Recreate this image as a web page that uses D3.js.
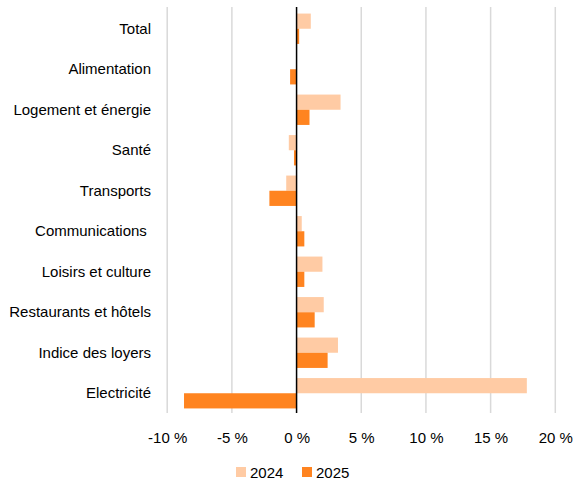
<!DOCTYPE html>
<html><head><meta charset="utf-8">
<script src="https://cdn.jsdelivr.net/npm/d3@7"></script>
<style>body{margin:0;background:#fff}svg{display:block}text{white-space:pre}</style>
</head><body>
<svg id="c" width="574" height="482"></svg>
<script>
const categories = ["Total","Alimentation","Logement et énergie","Santé","Transports","Communications ","Loisirs et culture","Restaurants et hôtels","Indice des loyers","Electricité"];
const series = ["2024","2025"];
const values2024 = [1.1, 0.0, 3.4, -0.6, -0.8, 0.4, 2.0, 2.1, 3.2, 17.8];
const values2025 = [0.2, -0.5, 1.0, -0.2, -2.1, 0.6, 0.6, 1.4, 2.4, -8.7];
const xTicks = [-10, -5, 0, 5, 10, 15, 20];
const colors = ["#FFCBA4", "#FF8420"];

const svg = d3.select("#c");
const font = "Liberation Sans, Arial, sans-serif";
const x = d3.scaleLinear().domain([-10, 20]).range([167.2, 555.3]);
const y = d3.scaleBand().domain(categories).range([8.5, 413.5]).paddingInner(0.25).paddingOuter(0.125);
const ySub = d3.scaleBand().domain(series).range([0, y.bandwidth()]);

// gridlines
svg.append("g").selectAll("line").data(xTicks.filter(d => d !== 0)).join("line")
  .attr("x1", d => x(d)).attr("x2", d => x(d))
  .attr("y1", 7).attr("y2", 413)
  .attr("stroke", "#d9d9d9").attr("stroke-width", 1.5);

// bars
const data = [];
categories.forEach((c, i) => {
  data.push({c, s: "2024", v: values2024[i]});
  data.push({c, s: "2025", v: values2025[i]});
});
svg.append("g").selectAll("rect").data(data).join("rect")
  .attr("x", d => x(Math.min(0, d.v)))
  .attr("width", d => Math.abs(x(d.v) - x(0)))
  .attr("y", d => y(d.c) + ySub(d.s))
  .attr("height", ySub.bandwidth())
  .attr("fill", d => colors[series.indexOf(d.s)]);

// zero line
svg.append("line").attr("x1", x(0)).attr("x2", x(0)).attr("y1", 7).attr("y2", 413)
  .attr("stroke", "#000").attr("stroke-width", 1.5);

// category axis labels
const yAxis = d3.axisLeft(y).tickSize(0).tickPadding(0);
const gy = svg.append("g").attr("transform", "translate(151,0)").call(yAxis);
gy.select(".domain").remove();
gy.selectAll("text").attr("font-family", font).attr("font-size", 15).attr("fill", "#000")
  .attr("xml:space", "preserve");

// x axis labels
const xAxis = d3.axisBottom(x).tickValues(xTicks).tickSize(0).tickPadding(0)
  .tickFormat(d => d + " %");
const gx = svg.append("g").attr("transform", "translate(0,432)").call(xAxis);
gx.select(".domain").remove();
gx.selectAll("text").attr("font-family", font).attr("font-size", 15).attr("fill", "#000");

// legend
const leg = svg.append("g");
const legX = [236, 302];
series.forEach((s, i) => {
  leg.append("rect").attr("x", legX[i]).attr("y", 467).attr("width", 10).attr("height", 10).attr("fill", colors[i]);
  leg.append("text").attr("x", legX[i] + 14).attr("y", 477.5).text(s)
    .attr("font-family", font).attr("font-size", 15).attr("fill", "#000");
});
</script>
</body></html>
